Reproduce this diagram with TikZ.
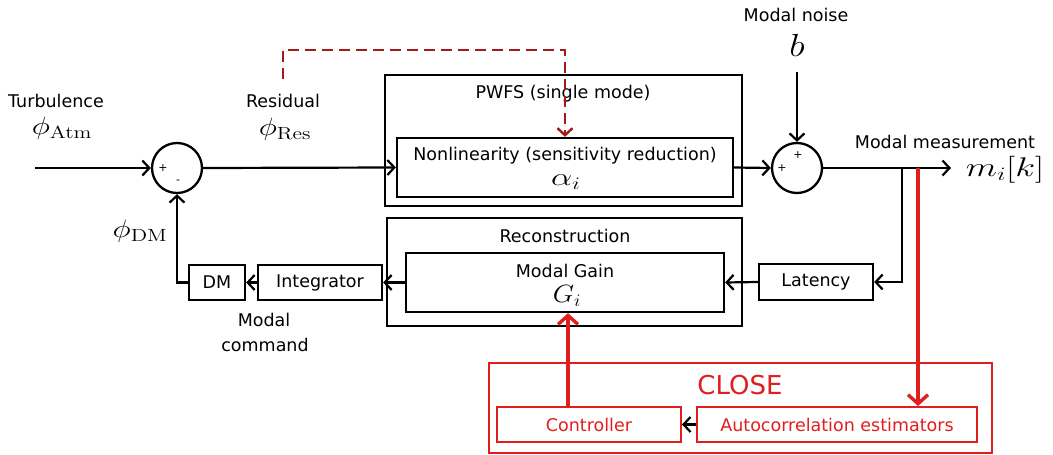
\RequirePackage{fix-cm}
\documentclass[tikz,border=0pt]{standalone}
\usepackage[no-math]{fontspec}
\setmainfont{DejaVu Sans}
\usetikzlibrary{arrows.meta}
\definecolor{dred}{RGB}{165,25,25}
\definecolor{bred}{RGB}{225,30,30}
\begin{document}
\begin{tikzpicture}[x=1pt,y=-1pt,
  blk/.style={draw, line width=2.3pt, inner sep=0pt},
  rblk/.style={draw=bred, line width=2pt, inner sep=0pt, text=bred, font=\fontsize{17.5}{20}\selectfont},
  txt/.style={inner sep=0pt, font=\fontsize{17.5}{20}\selectfont},
  sgn/.style={inner sep=0pt, font=\fontsize{11}{12}\selectfont},
  mth/.style={inner sep=0pt, font=\fontsize{24}{26}\selectfont},
  sumc/.style={draw, circle, line width=2.3pt, minimum size=50pt, inner sep=0pt},
  arr/.style={line width=2.2pt, -{Straight Barb[length=7pt,width=15pt,line width=2.2pt]}},
  rarr/.style={draw=bred, line width=3.6pt, -{Straight Barb[length=9pt,width=20pt,line width=3.4pt]}},
  darr/.style={draw=dred, line width=2.4pt, dash pattern=on 11pt off 6pt, -{Straight Barb[length=7pt,width=15pt,line width=2.4pt]}}
]
\useasboundingbox (0,0) rectangle (1053,455);

% outer boxes
\node[blk, minimum width=357pt, minimum height=131pt] (pwfs) at (563.5,140.5) {};
\node[blk, minimum width=355pt, minimum height=108pt] (rec) at (564.5,272) {};
\node[draw=bred, line width=2pt, minimum width=503pt, minimum height=90pt, inner sep=0pt] (close) at (740.5,408) {};

% inner boxes
\node[blk, minimum width=336pt, minimum height=59pt] (nl) at (565,167.5) {};
\node[blk, minimum width=318pt, minimum height=59pt] (mg) at (565,282.5) {};
\node[blk, minimum width=114pt, minimum height=36pt] (lat) at (816,282) {};
\node[blk, minimum width=124pt, minimum height=35pt] (int) at (320,282.5) {};
\node[blk, minimum width=56pt, minimum height=35pt] (dm) at (217,282.5) {};
\node[rblk, minimum width=184pt, minimum height=35pt] (ctrl) at (589,424.5) {Controller};
\node[rblk, minimum width=280pt, minimum height=35pt] (ac) at (837,424.5) {Autocorrelation estimators};

% sums
\node[sumc] (s1) at (177,168) {};
\node[sumc] (s2) at (797,168) {};
\node[sgn] (s1p) at (163,168) {+};
\node[sgn] (s1m) at (178,182) {-};
\node[sgn] (s2a) at (798,155) {+};
\node[sgn] (s2b) at (782,168) {+};

% texts
\node[txt] (tturb) at (56,101) {Turbulence};
\node[mth] (patm) at (62,128) {\scalebox{1.3}[1.05]{$\phi_{\mathrm{Atm}}$}};
\node[txt] (tres) at (283,101) {Residual};
\node[mth] (pres) at (285,129) {\scalebox{1.3}[1.05]{$\phi_{\mathrm{Res}}$}};
\node[txt] (tpwfs) at (563,94) {PWFS (single mode)};
\node[txt] (tnl) at (565,156) {Nonlinearity (sensitivity reduction)};
\node[inner sep=0pt, font=\fontsize{25}{27}\selectfont] (talpha) at (566,182) {\scalebox{1.35}[1]{$\alpha_i$}};
\node[txt] (tnoise) at (796,15) {Modal noise};
\node[inner sep=0pt, font=\fontsize{32}{34}\selectfont] (tb) at (797,45) {\scalebox{1.15}[1]{$b$}};
\node[txt] (tmeas) at (945,142) {Modal measurement};
\node[inner sep=0pt, font=\fontsize{27}{30}\selectfont] (tm) at (1005,170) {\scalebox{1.35}[1]{$m_i[k]$}};
\node[txt] (trec) at (565,236) {Reconstruction};
\node[txt] (tmg) at (565,271) {Modal Gain};
\node[inner sep=0pt, font=\fontsize{25}{27}\selectfont] (tg) at (567,296) {\scalebox{1.1}[1]{$G_i$}};
\node[txt] at (lat) {Latency};
\node[txt] at (int) {Integrator};
\node[txt] at (dm) {DM};
\node[txt] (tmc1) at (264,320) {Modal};
\node[txt] (tmc2) at (265,345) {command};
\node[mth] (pdm) at (140,231) {\scalebox{1.3}[1.05]{$\phi_{\mathrm{DM}}$}};
\node[inner sep=0pt, text=bred, font=\fontsize{26}{28}\selectfont] (tclose) at (740,385) {CLOSE};

% coordinates
\coordinate (in) at (35,168);
\coordinate (noise) at (797,72);
\coordinate (out) at (951,168);
\coordinate (br) at (902,168);
\coordinate (br2) at (918,168);
\coordinate (rs) at (283,79);
\coordinate (dtop) at (565,50);
\coordinate (redx) at (568,0);

% connectors
\draw[arr] (in) -- (s1.west);
\draw[arr] (s1.east) -- (nl.west);
\draw[arr] (nl.east) -- (s2.west);
\draw[arr] (noise) -- (s2.north);
\draw[arr] (s2.east) -- (out);
\draw[arr] (br) |- (lat.east);
\draw[arr] (lat.west) -- (mg.east);
\draw[arr] (mg.west) -- (int.east);
\draw[arr] (int.west) -- (dm.east);
\draw[arr] (dm.west) -| (s1.south);
\draw[darr] (rs) |- (dtop) -- (dtop |- nl.north);
\draw[rarr] (br2) -- (br2 |- ac.north);
\draw[rarr] (redx |- ctrl.north) -- (redx |- mg.south);
\draw[arr] (ac.west) -- (ctrl.east);
\end{tikzpicture}
\end{document}
